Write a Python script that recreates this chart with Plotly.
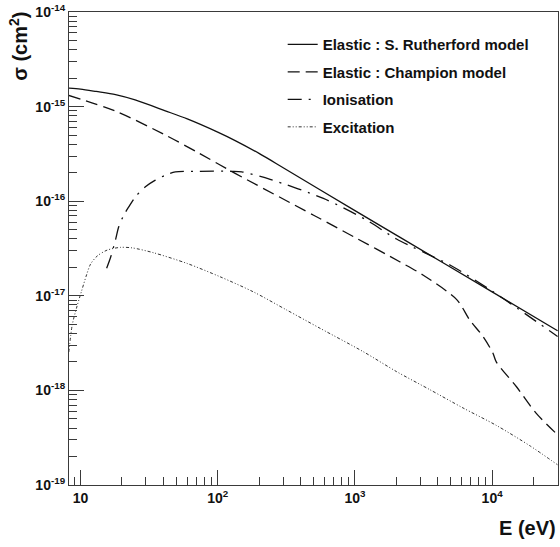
import plotly.graph_objects as go

# ── Data (E in eV, sigma in cm^2) ────────────────────────────────────────────
E_RUTH = [8.2, 10, 13, 18, 25, 41.5, 60, 100, 134, 200, 300, 1000, 2120,
          10000, 30000]
S_RUTH = [1.567e-15, 1.531e-15, 1.445e-15, 1.337e-15, 1.175e-15, 9.02e-16,
          7.41e-16, 5.37e-16, 4.37e-16, 3.20e-16, 2.26e-16, 7.94e-17,
          4.17e-17, 1.10e-17, 4.27e-18]

E_CHAMP = [8.2, 18, 41.5, 72.4, 134, 500, 1000, 2120, 3130, 5520, 6860,
           8570, 10140, 10720, 15000, 20900, 30000]
S_CHAMP = [1.312e-15, 8.95e-16, 5.01e-16, 3.24e-16, 1.97e-16, 7.11e-17,
           4.14e-17, 2.29e-17, 1.66e-17, 9.12e-18, 5.56e-18, 3.72e-18,
           2.47e-18, 2.00e-18, 1.10e-18, 5.75e-19, 3.39e-19]

E_ION = [15.5, 16.5, 17.97, 18.99, 20.65, 22.46, 25.1, 29.7, 35.1, 41.5,
         49.1, 72.4, 127, 150, 241, 589, 1216, 2010, 5000, 10000, 30000]
S_ION = [1.96e-17, 2.51e-17, 3.88e-17, 5.36e-17, 7.11e-17, 8.71e-17,
         1.11e-16, 1.42e-16, 1.67e-16, 1.88e-16, 2.04e-16, 2.07e-16,
         2.07e-16, 2.04e-16, 1.70e-16, 1.07e-16, 6.31e-17, 3.98e-17,
         2.09e-17, 1.12e-17, 3.72e-18]

E_EXC = [8.22, 8.70, 9.35, 10.17, 11.06, 11.83, 13.22, 15.62, 19.5, 23.8,
         34.1, 59.7, 104, 182, 318, 556, 1148, 2010, 3508, 6138, 10720,
         18750, 29900]
S_EXC = [2.55e-18, 4.92e-18, 7.43e-18, 1.12e-17, 1.66e-17, 2.16e-17,
         2.63e-17, 3.04e-17, 3.25e-17, 3.21e-17, 2.85e-17, 2.20e-17,
         1.59e-17, 1.10e-17, 7.08e-18, 4.54e-18, 2.57e-18, 1.58e-18,
         1.02e-18, 6.52e-19, 4.27e-19, 2.61e-19, 1.64e-19]

X_MAJOR = [10, 100, 1000, 10000]
X_LABELS = ["10", "10<sup>2</sup>", "10<sup>3</sup>", "10<sup>4</sup>"]
Y_MAJOR = [1e-19, 1e-18, 1e-17, 1e-16, 1e-15, 1e-14]
Y_LABELS = ["10<sup>-19</sup>", "10<sup>-18</sup>", "10<sup>-17</sup>",
            "10<sup>-16</sup>", "10<sup>-15</sup>", "10<sup>-14</sup>"]

FONT = "Liberation Sans, Arial, sans-serif"
AXIS_COLOR = "#3a3a3a"

x_minor = [m * 10 ** k for k in range(0, 5) for m in range(2, 10)]
y_minor = [m * 10.0 ** k for k in range(-19, -14) for m in range(2, 10)]

curves = [
    ("Elastic : S. Rutherford model", E_RUTH, S_RUTH, "solid", 1.3, "#111"),
    ("Elastic : Champion model", E_CHAMP, S_CHAMP, "12px,6px", 1.3, "#111"),
    ("Ionisation", E_ION, S_ION, "14px,7px,2px,7px", 1.3, "#111"),
    ("Excitation", E_EXC, S_EXC, "3px,2px,1px,2px,1px,2px", 1.0, "#333"),
]

fig = go.Figure()
for i, (name, ex, sy, dash, width, color) in enumerate(curves):
    fig.add_trace(go.Scatter(
        x=ex, y=sy, name=f"<b>{name}</b>", mode="lines",
        legendgroup=str(i),
        line=dict(color=color, width=width, dash=dash, shape="spline", smoothing=0.8),
    ))

axis_common = dict(
    type="log", showgrid=False, zeroline=False,
    showline=True, linecolor=AXIS_COLOR, linewidth=1.2, mirror=True,
    ticks="inside", ticklen=15, tickwidth=1, tickcolor=AXIS_COLOR,
    tickfont=dict(family=FONT, size=14, color="#111", weight="bold"),
)

fig.update_layout(
    width=560, height=547,
    paper_bgcolor="white", plot_bgcolor="white",
    margin=dict(l=69, r=2, t=12, b=62),
    font=dict(family=FONT, color="#111"),
    xaxis=dict(axis_common, range=[0.916, 4.48],
               tickmode="array", tickvals=X_MAJOR, ticktext=X_LABELS,
               minor=dict(tickmode="array", tickvals=x_minor, ticks="inside",
                          ticklen=8, tickcolor=AXIS_COLOR, tickwidth=1)),
    yaxis=dict(axis_common, range=[-19, -14],
               tickmode="array", tickvals=Y_MAJOR, ticktext=Y_LABELS,
               minor=dict(tickmode="array", tickvals=y_minor, ticks="inside",
                          ticklen=8, tickcolor=AXIS_COLOR, tickwidth=1)),
    legend=dict(
        x=0.437, y=0.966, xanchor="left", yanchor="top",
        bgcolor="rgba(0,0,0,0)", borderwidth=0,
        font=dict(family=FONT, size=15, color="#111"),
        traceorder="grouped", tracegroupgap=5,
    ),
    showlegend=True,
    annotations=[
        dict(text="<b>σ (cm<sup>2</sup>)</b>", xref="paper", yref="paper",
             x=-0.105, y=1.005, xanchor="center", yanchor="top", textangle=-90,
             showarrow=False, font=dict(family=FONT, size=20, color="#111")),
        dict(text="<b>E (eV)</b>", xref="paper", yref="paper",
             x=1.0, y=-0.09, xanchor="right", yanchor="middle",
             showarrow=False, font=dict(family=FONT, size=20, color="#111")),
    ],
)

# drop the page's default body margin so the 560x547 figure fills the window
fig.write_html(
    "out.html",
    config={"displayModeBar": False},
    post_script="document.body.style.margin='0';document.body.style.overflow='hidden';",
)
